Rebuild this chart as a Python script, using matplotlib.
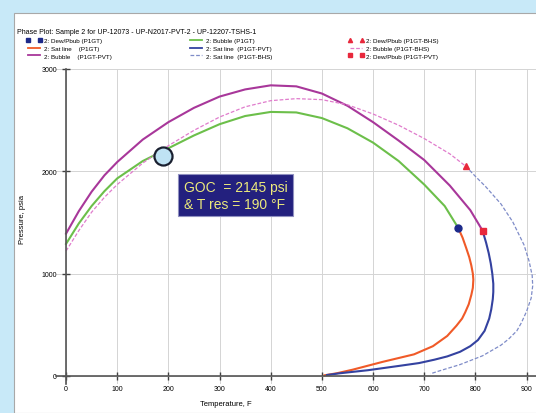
import numpy as np
import matplotlib
matplotlib.use("Agg")
import matplotlib.pyplot as plt
from matplotlib.lines import Line2D
from matplotlib.patches import Rectangle

plt.rcParams['font.family'] = ['Liberation Sans', 'DejaVu Sans']

# phase envelope data, temperature (F) vs pressure (psia)
bub_p1gt_T = [0, 25, 50, 75, 100, 150, 200, 250, 300, 350, 400, 450, 500, 550, 600, 650, 700, 740, 766]
bub_p1gt_P = [1290, 1490, 1660, 1805, 1930, 2100, 2225, 2350, 2460, 2540, 2580, 2575, 2520, 2420, 2280, 2100, 1870, 1660, 1450]

sat_p1gt_T = [766, 775, 782, 788, 792, 795, 796, 795, 792, 787, 780, 774, 763, 745, 717, 680, 619, 560, 529, 505]
sat_p1gt_P = [1450, 1350, 1250, 1160, 1080, 1000, 940, 860, 790, 700, 620, 560, 490, 390, 290, 210, 137, 60, 25, 5]

bub_pvt_T = [0, 25, 50, 75, 100, 150, 200, 250, 300, 350, 400, 450, 500, 550, 600, 650, 700, 750, 790, 814]
bub_pvt_P = [1390, 1610, 1800, 1960, 2090, 2310, 2480, 2620, 2730, 2800, 2840, 2830, 2760, 2640, 2480, 2300, 2110, 1860, 1620, 1420]

sat_pvt_T = [814, 821, 826, 830, 833, 835, 835, 834, 831, 827, 818, 805, 790, 770, 745, 720, 690, 652, 590, 535, 510]
sat_pvt_P = [1420, 1300, 1200, 1100, 1000, 900, 820, 750, 650, 560, 440, 350, 290, 235, 190, 158, 125, 98, 55, 25, 8]

bub_bhs_T = [0, 25, 50, 75, 100, 150, 200, 250, 300, 350, 400, 450, 500, 550, 600, 650, 700, 750, 781]
bub_bhs_P = [1220, 1420, 1600, 1745, 1870, 2080, 2250, 2400, 2530, 2630, 2690, 2710, 2700, 2650, 2560, 2450, 2320, 2170, 2050]

sat_bhs_T = [781, 800, 820, 850, 873, 895, 905, 911, 912, 909, 900, 890, 881, 865, 850, 814, 770, 730, 712]
sat_bhs_P = [2050, 1950, 1850, 1680, 1505, 1280, 1120, 980, 880, 760, 630, 520, 440, 360, 300, 196, 110, 49, 20]

# critical / dew-bubble points
dp_p1gt = (766, 1450)
dp_pvt = (814, 1420)
dp_bhs = (781, 2050)

goc_T = 190
goc_P = 2145

fig = plt.figure(figsize=(5.36, 4.14), dpi=100)
fig.patch.set_facecolor('#c8e9f8')
fig.patches.append(Rectangle((14 / 536, 0), 1, 400 / 414, transform=fig.transFigure,
                             facecolor='white', edgecolor='#a8a8a8', lw=0.8, zorder=-1))

ax = fig.add_axes([55.8 / 536, 0.070, 481 / 536, 0.761])
ax.set_facecolor('none')

c_green = '#6cbf4a'
c_red = '#f05a28'
c_mag = '#a8379a'
c_blue = '#3442a0'
c_pink = '#e07ccc'
c_lblue = '#7f8cc8'

ax.plot(bub_p1gt_T, bub_p1gt_P, color=c_green, lw=1.5)
ax.plot(sat_p1gt_T, sat_p1gt_P, color=c_red, lw=1.5)
ax.plot(bub_pvt_T, bub_pvt_P, color=c_mag, lw=1.5)
ax.plot(sat_pvt_T, sat_pvt_P, color=c_blue, lw=1.5)
ax.plot(bub_bhs_T, bub_bhs_P, color=c_pink, lw=0.9, ls=(0, (3, 1.5)))
ax.plot(sat_bhs_T, sat_bhs_P, color=c_lblue, lw=0.9, ls=(0, (3, 1.5)))

ax.plot(*dp_p1gt, 'o', color='#1d2a8a', ms=5, zorder=5)
ax.plot(*dp_pvt, 's', color='#e8283c', ms=4.5, zorder=5)
ax.plot(*dp_bhs, '^', color='#e8283c', ms=4.5, zorder=5)

# GOC / reservoir temperature marker
ax.plot(goc_T, goc_P, 'o', ms=13, mfc='#bfe3f4', mec='#1a2030', mew=1.6, zorder=6)
ax.text(230, 1915, 'GOC  = %d psi\n& T res = %d \u00b0F' % (goc_P, goc_T),
        fontsize=10, color='#ecea7c', va='top', ha='left', linespacing=1.25,
        bbox=dict(boxstyle='square,pad=0.4', fc='#23207e', ec='#9090c0', lw=0.8),
        zorder=7)

ax.set_xlim(-20, 920)
ax.set_ylim(-80, 3000)
ax.set_xticks(np.arange(0, 1000, 100))
ax.set_yticks([0, 1000, 2000, 3000])
ax.tick_params(labelsize=5, direction='inout', length=6, width=1, color='#404040')
ax.grid(True, color='#d4d4d4', lw=0.7)
ax.set_axisbelow(True)
for s in ['top', 'right']:
    ax.spines[s].set_visible(False)
ax.spines['left'].set_position(('data', 0))
ax.spines['bottom'].set_position(('data', 0))
ax.spines['left'].set_color('#555555')
ax.spines['bottom'].set_color('#555555')
ax.spines['left'].set_linewidth(1.2)
ax.spines['bottom'].set_linewidth(1.2)

fig.text(226 / 536, 1 - 405 / 414, 'Temperature, F', fontsize=5.5, ha='center', va='center')
fig.text(22 / 536, 1 - 220 / 414, 'Pressure, psia', fontsize=5.5, rotation=90, ha='center', va='center')

fig.text(17 / 536, 1 - 33 / 414,
         'Phase Plot: Sample 2 for UP-12073 - UP-N2017-PVT-2 - UP-12207-TSHS-1',
         fontsize=5, ha='left', va='center')

# legend in three columns
cols = [
    [Line2D([], [], ls='none', marker='s', color='#1d2a8a', ms=3),
     Line2D([], [], color=c_red, lw=1.3),
     Line2D([], [], color=c_mag, lw=1.3)],
    [Line2D([], [], color=c_green, lw=1.3),
     Line2D([], [], color=c_blue, lw=1.3),
     Line2D([], [], color=c_lblue, lw=0.9, ls=(0, (3, 1.5)))],
    [Line2D([], [], ls='none', marker='^', color='#e8283c', ms=3),
     Line2D([], [], color=c_pink, lw=0.9, ls=(0, (3, 1.5))),
     Line2D([], [], ls='none', marker='s', color='#e8283c', ms=3)],
]
labels = [
    ['2: Dew/Pbub (P1GT)', '2: Sat line    (P1GT)', '2: Bubble    (P1GT-PVT)'],
    ['2: Bubble (P1GT)', '2: Sat line  (P1GT-PVT)', '2: Sat line  (P1GT-BHS)'],
    ['2: Dew/Pbub (P1GT-BHS)', '2: Bubble (P1GT-BHS)', '2: Dew/Pbub (P1GT-PVT)'],
]
xs = [26, 188, 348]
for x, h, l in zip(xs, cols, labels):
    fig.legend(h, l, loc='upper left', bbox_to_anchor=(x / 536, 1 - 39 / 414),
               frameon=False, fontsize=4.5, handlelength=2.6, handletextpad=0.3,
               labelspacing=0.35, numpoints=2, borderpad=0, borderaxespad=0)

fig.savefig('out.png', dpi=100)
